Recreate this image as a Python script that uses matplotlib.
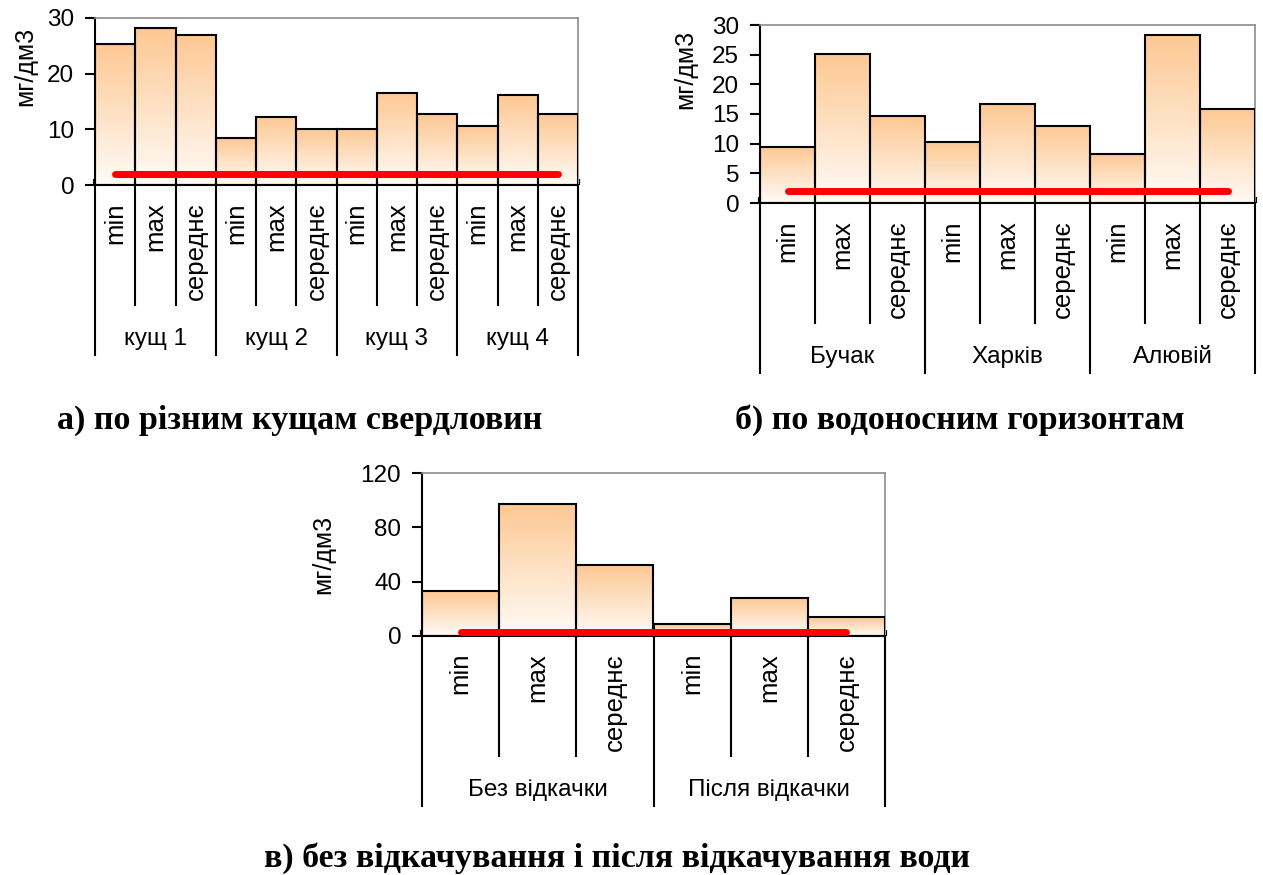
import numpy as np
import matplotlib.pyplot as plt
from matplotlib.colors import LinearSegmentedColormap

plt.rcParams['font.family'] = ['Liberation Sans', 'DejaVu Sans']

W, H = 1263, 875
DPI = 100

sub_labels = ["min", "max", "середнє"]

groups_a = ["кущ 1", "кущ 2", "кущ 3", "кущ 4"]
values_a = [25.3, 28.2, 27.0, 8.5, 12.3, 10.1, 10.1, 16.6, 12.7, 10.6, 16.1, 12.7]
norm_a = 2.0

groups_b = ["Бучак", "Харків", "Алювій"]
values_b = [9.5, 25.1, 14.6, 10.2, 16.7, 13.0, 8.2, 28.3, 15.9]
norm_b = 2.0

groups_c = ["Без відкачки", "Після відкачки"]
values_c = [32.9, 97.4, 52.0, 8.6, 28.0, 13.7]
norm_c = 3.0

grad = LinearSegmentedColormap.from_list("peach", ["#fffbf7", "#fdc893"])
grad_img = np.linspace(0, 1, 256).reshape(-1, 1)


def draw_chart(ax, groups, values, norm, ymax, yticks):
    n = len(values)
    x = np.arange(n)
    bars = ax.bar(x, values, width=1.0, facecolor="none", edgecolor="black",
                  linewidth=1.5, zorder=3)
    for b in bars:
        x0, y0 = b.get_x(), b.get_y()
        im = ax.imshow(grad_img, cmap=grad, aspect="auto", origin="lower",
                       extent=(x0, x0 + b.get_width(), y0, y0 + b.get_height()),
                       zorder=2)
        im.set_clip_path(b)
    ax.plot(x, [norm] * n, color="#ff0000", lw=5, solid_capstyle="round", zorder=4)

    ax.set_xlim(-0.5, n - 0.5)
    ax.set_ylim(0, ymax)
    ax.set_yticks(yticks)
    ax.tick_params(axis="y", direction="out", length=7, width=1.5, pad=8,
                   labelsize=17.5)
    ax.set_xticks(np.arange(n + 1) - 0.5)
    ax.set_xticklabels([])
    ax.tick_params(axis="x", direction="in", length=4, width=3)
    for s in ("top", "right"):
        ax.spines[s].set_color("#8c8c8c")
        ax.spines[s].set_linewidth(1.2)
    for s in ("left", "bottom"):
        ax.spines[s].set_linewidth(1.5)

    # category axis drawn below the plot: separators and two label rows
    ax_h = ax.get_position().height * H
    px = lambda p: -p / ax_h
    tr = ax.get_xaxis_transform()
    for k in range(n + 1):
        depth = 170 if k % 3 == 0 else 120
        ax.plot([k - 0.5, k - 0.5], [0, px(depth)], color="black", lw=1.5,
                transform=tr, clip_on=False)
    for i in range(n):
        ax.text(i, px(17), sub_labels[i % 3], rotation=90, ha="center", va="top",
                fontsize=18.5, transform=tr)
    for g, name in enumerate(groups):
        ax.text(3 * g + 1, px(154), name, ha="center", va="center",
                fontsize=17.5, transform=tr)


fig = plt.figure(figsize=(W / DPI, H / DPI), dpi=DPI)

ax_a = fig.add_axes([95 / W, 1 - 185 / H, 483 / W, 167 / H])
ax_b = fig.add_axes([760 / W, 1 - 203 / H, 495 / W, 178 / H])
ax_c = fig.add_axes([422 / W, 1 - 636 / H, 463 / W, 163 / H])

draw_chart(ax_a, groups_a, values_a, norm_a, 30, [0, 10, 20, 30])
draw_chart(ax_b, groups_b, values_b, norm_b, 30, [0, 5, 10, 15, 20, 25, 30])
draw_chart(ax_c, groups_c, values_c, norm_c, 120, [0, 40, 80, 120])

for xp, yp in [(25, 66), (685, 69), (323, 554)]:
    fig.text(xp / W, 1 - yp / H, "мг/дм3", rotation=90, ha="center", va="center",
             fontsize=18)

cap = dict(ha="center", va="center", fontsize=24.5, fontweight="bold",
           family=["Liberation Serif", "DejaVu Serif"])
fig.text(300 / W, 1 - 420 / H, "а) по різним кущам свердловин", **cap)
fig.text(960 / W, 1 - 420 / H, "б) по водоносним горизонтам", **cap)
fig.text(617 / W, 1 - 858 / H, "в) без відкачування і після відкачування води", **cap)

fig.savefig("out.png", dpi=DPI, facecolor="white")
